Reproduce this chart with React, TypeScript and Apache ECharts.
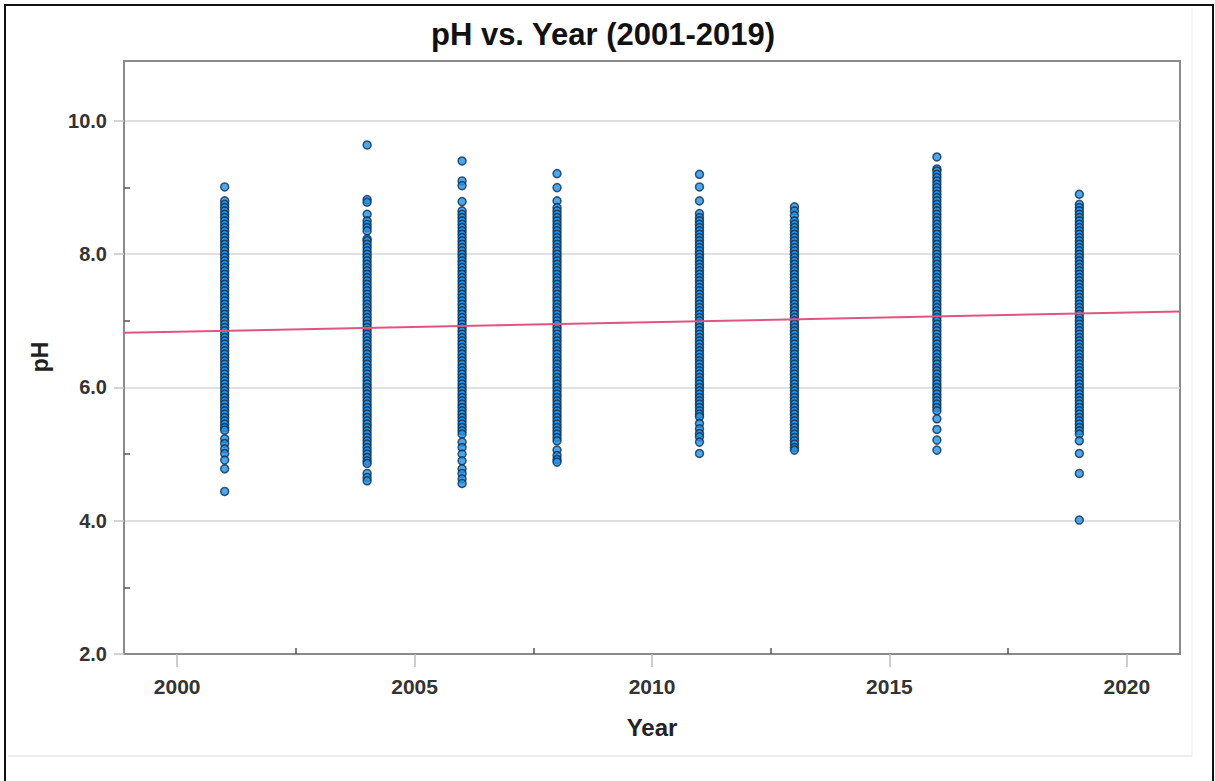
import React, { useEffect, useRef } from "react";
import * as echarts from "echarts";

const years = [2001, 2004, 2006, 2008, 2011, 2013, 2016, 2019];

const ph2001 = [9.01, 8.8, 8.75, 8.7, 8.65, 8.6, 8.55, 8.5, 8.45, 8.4, 8.35, 8.3, 8.25, 8.2, 8.15, 8.1, 8.05, 8, 7.95, 7.9, 7.85, 7.8, 7.75, 7.7, 7.65, 7.6, 7.55, 7.5, 7.45, 7.4, 7.35, 7.3, 7.25, 7.2, 7.15, 7.1, 7.05, 7, 6.95, 6.9, 6.85, 6.8, 6.75, 6.7, 6.65, 6.6, 6.55, 6.5, 6.45, 6.4, 6.35, 6.3, 6.25, 6.2, 6.15, 6.1, 6.05, 6, 5.95, 5.9, 5.85, 5.8, 5.75, 5.7, 5.65, 5.6, 5.55, 5.5, 5.45, 5.4, 5.36, 5.23, 5.16, 5.08, 5.01, 4.91, 4.78, 4.44];

const ph2004 = [9.64, 8.82, 8.78, 8.6, 8.5, 8.45, 8.4, 8.35, 8.23, 8.2, 8.15, 8.1, 8.05, 8, 7.95, 7.9, 7.85, 7.8, 7.75, 7.7, 7.65, 7.6, 7.55, 7.5, 7.45, 7.4, 7.35, 7.3, 7.25, 7.2, 7.15, 7.1, 7.05, 7, 6.95, 6.9, 6.85, 6.8, 6.75, 6.7, 6.65, 6.6, 6.55, 6.5, 6.45, 6.4, 6.35, 6.3, 6.25, 6.2, 6.15, 6.1, 6.05, 6, 5.95, 5.9, 5.85, 5.8, 5.75, 5.7, 5.65, 5.6, 5.55, 5.5, 5.45, 5.4, 5.35, 5.3, 5.25, 5.2, 5.15, 5.1, 5.05, 5, 4.95, 4.9, 4.86, 4.71, 4.65, 4.6];

const ph2006 = [9.4, 9.1, 9.03, 8.79, 8.65, 8.6, 8.55, 8.5, 8.45, 8.4, 8.35, 8.3, 8.25, 8.2, 8.15, 8.1, 8.05, 8, 7.95, 7.9, 7.85, 7.8, 7.75, 7.7, 7.65, 7.6, 7.55, 7.5, 7.45, 7.4, 7.35, 7.3, 7.25, 7.2, 7.15, 7.1, 7.05, 7, 6.95, 6.9, 6.85, 6.8, 6.75, 6.7, 6.65, 6.6, 6.55, 6.5, 6.45, 6.4, 6.35, 6.3, 6.25, 6.2, 6.15, 6.1, 6.05, 6, 5.95, 5.9, 5.85, 5.8, 5.75, 5.7, 5.65, 5.6, 5.55, 5.5, 5.45, 5.4, 5.35, 5.3, 5.18, 5.1, 5.0, 4.9, 4.78, 4.71, 4.63, 4.56];

const ph2008 = [9.21, 9.0, 8.8, 8.7, 8.65, 8.6, 8.55, 8.5, 8.45, 8.4, 8.35, 8.3, 8.25, 8.2, 8.15, 8.1, 8.05, 8, 7.95, 7.9, 7.85, 7.8, 7.75, 7.7, 7.65, 7.6, 7.55, 7.5, 7.45, 7.4, 7.35, 7.3, 7.25, 7.2, 7.15, 7.1, 7.05, 7, 6.95, 6.9, 6.85, 6.8, 6.75, 6.7, 6.65, 6.6, 6.55, 6.5, 6.45, 6.4, 6.35, 6.3, 6.25, 6.2, 6.15, 6.1, 6.05, 6, 5.95, 5.9, 5.85, 5.8, 5.75, 5.7, 5.65, 5.6, 5.55, 5.5, 5.45, 5.4, 5.35, 5.3, 5.25, 5.2, 5.06, 4.98, 4.92, 4.88];

const ph2011 = [9.2, 9.01, 8.8, 8.61, 8.55, 8.5, 8.45, 8.4, 8.35, 8.3, 8.25, 8.2, 8.15, 8.1, 8.05, 8, 7.95, 7.9, 7.85, 7.8, 7.75, 7.7, 7.65, 7.6, 7.55, 7.5, 7.45, 7.4, 7.35, 7.3, 7.25, 7.2, 7.15, 7.1, 7.05, 7, 6.95, 6.9, 6.85, 6.8, 6.75, 6.7, 6.65, 6.6, 6.55, 6.5, 6.45, 6.4, 6.35, 6.3, 6.25, 6.2, 6.15, 6.1, 6.05, 6, 5.95, 5.9, 5.85, 5.8, 5.75, 5.7, 5.65, 5.6, 5.56, 5.46, 5.38, 5.31, 5.26, 5.18, 5.01];

const ph2013 = [8.71, 8.65, 8.58, 8.5, 8.45, 8.4, 8.35, 8.3, 8.25, 8.2, 8.15, 8.1, 8.05, 8, 7.95, 7.9, 7.85, 7.8, 7.75, 7.7, 7.65, 7.6, 7.55, 7.5, 7.45, 7.4, 7.35, 7.3, 7.25, 7.2, 7.15, 7.1, 7.05, 7, 6.95, 6.9, 6.85, 6.8, 6.75, 6.7, 6.65, 6.6, 6.55, 6.5, 6.45, 6.4, 6.35, 6.3, 6.25, 6.2, 6.15, 6.1, 6.05, 6, 5.95, 5.9, 5.85, 5.8, 5.75, 5.7, 5.65, 5.6, 5.55, 5.5, 5.45, 5.4, 5.35, 5.3, 5.25, 5.2, 5.15, 5.1, 5.06];

const ph2016 = [9.46, 9.28, 9.25, 9.2, 9.15, 9.1, 9.05, 9, 8.95, 8.9, 8.85, 8.8, 8.75, 8.7, 8.65, 8.6, 8.55, 8.5, 8.45, 8.4, 8.35, 8.3, 8.25, 8.2, 8.15, 8.1, 8.05, 8, 7.95, 7.9, 7.85, 7.8, 7.75, 7.7, 7.65, 7.6, 7.55, 7.5, 7.45, 7.4, 7.35, 7.3, 7.25, 7.2, 7.15, 7.1, 7.05, 7, 6.95, 6.9, 6.85, 6.8, 6.75, 6.7, 6.65, 6.6, 6.55, 6.5, 6.45, 6.4, 6.35, 6.3, 6.25, 6.2, 6.15, 6.1, 6.05, 6, 5.95, 5.9, 5.85, 5.8, 5.75, 5.7, 5.65, 5.53, 5.37, 5.21, 5.06];

const ph2019 = [8.9, 8.75, 8.7, 8.65, 8.6, 8.55, 8.5, 8.45, 8.4, 8.35, 8.3, 8.25, 8.2, 8.15, 8.1, 8.05, 8, 7.95, 7.9, 7.85, 7.8, 7.75, 7.7, 7.65, 7.6, 7.55, 7.5, 7.45, 7.4, 7.35, 7.3, 7.25, 7.2, 7.15, 7.1, 7.05, 7, 6.95, 6.9, 6.85, 6.8, 6.75, 6.7, 6.65, 6.6, 6.55, 6.5, 6.45, 6.4, 6.35, 6.3, 6.25, 6.2, 6.15, 6.1, 6.05, 6, 5.95, 5.9, 5.85, 5.8, 5.75, 5.7, 5.65, 5.6, 5.55, 5.5, 5.45, 5.4, 5.35, 5.3, 5.2, 5.01, 4.71, 4.01];

const phByYear = [ph2001, ph2004, ph2006, ph2008, ph2011, ph2013, ph2016, ph2019];

// Fit line endpoints (at plot edges)
const trendX = [1998.88, 2021.12];
const trendY = [6.82, 7.14];

const xMajorTicks = [2000, 2005, 2010, 2015, 2020];
const xMinorTicks = [2002.5, 2007.5, 2012.5, 2017.5];
const yMajorTicks = [2, 4, 6, 8, 10];
const yMinorTicks = [3, 5, 7, 9];

const X_MIN = 1998.88;
const X_MAX = 2021.12;
const Y_MIN = 2;
const Y_MAX = 10.9;

export default function App() {
  const ref = useRef<HTMLDivElement>(null);

  useEffect(() => {
    if (!ref.current) return;
    const chart = echarts.init(ref.current, null, { renderer: "svg" });

    const scatterData: number[][] = [];
    years.forEach((yr, i) => {
      phByYear[i].forEach((v) => scatterData.push([yr, v]));
    });

    const font = "'Liberation Sans', Arial, Helvetica, sans-serif";

    const option: any = {
      animation: false,
      backgroundColor: "#ffffff",
      textStyle: { fontFamily: font },
      grid: {
        left: 124,
        top: 61,
        right: 35,
        bottom: 127,
        show: true,
        borderColor: "#8a8a8a",
        borderWidth: 2,
        backgroundColor: "transparent",
      },
      xAxis: [
        {
          type: "value",
          min: X_MIN,
          max: X_MAX,
          axisLine: { show: true, lineStyle: { color: "#8a8a8a", width: 2 } },
          axisTick: {
            show: true,
            inside: false,
            length: 13,
            customValues: xMajorTicks,
            lineStyle: { color: "#bdbdbd", width: 1.5 },
          },
          axisLabel: {
            show: true,
            customValues: xMajorTicks,
            margin: 22,
            fontSize: 21,
            fontWeight: "bold",
            color: "#333333",
            fontFamily: font,
            formatter: (v: number) => String(Math.round(v)),
          },
          splitLine: { show: false },
        },
        {
          type: "value",
          min: X_MIN,
          max: X_MAX,
          position: "bottom",
          axisLine: { show: false },
          axisTick: {
            show: true,
            inside: true,
            length: 6,
            customValues: xMinorTicks,
            lineStyle: { color: "#555555", width: 1.5 },
          },
          axisLabel: { show: false },
          splitLine: { show: false },
        },
      ],
      yAxis: [
        {
          type: "value",
          min: Y_MIN,
          max: Y_MAX,
          interval: 2,
          axisLine: { show: true, lineStyle: { color: "#8a8a8a", width: 2 } },
          axisTick: {
            show: true,
            inside: false,
            length: 10,
            customValues: yMajorTicks,
            lineStyle: { color: "#c4c4c4", width: 1.5 },
          },
          axisLabel: {
            show: true,
            customValues: yMajorTicks,
            margin: 17,
            fontSize: 20,
            fontWeight: "bold",
            color: "#333333",
            fontFamily: font,
            formatter: (v: number) => v.toFixed(1),
          },
          splitLine: { show: true, lineStyle: { color: "#d6d6d6", width: 1.5 } },
        },
        {
          type: "value",
          min: Y_MIN,
          max: Y_MAX,
          position: "left",
          axisLine: { show: false },
          axisTick: {
            show: true,
            inside: true,
            length: 6,
            customValues: yMinorTicks,
            lineStyle: { color: "#555555", width: 1.5 },
          },
          axisLabel: { show: false },
          splitLine: { show: false },
        },
      ],
      series: [
        {
          type: "scatter",
          xAxisIndex: 0,
          yAxisIndex: 0,
          data: scatterData,
          symbol: "circle",
          symbolSize: 8,
          itemStyle: {
            color: "#1f92ea",
            borderColor: "#0d2f50",
            borderWidth: 1.5,
          },
          z: 3,
        },
        {
          type: "line",
          xAxisIndex: 0,
          yAxisIndex: 0,
          data: trendX.map((x, i) => [x, trendY[i]]),
          symbol: "none",
          lineStyle: { color: "#e0557f", width: 2 },
          z: 4,
        },
      ],
      graphic: [
        {
          type: "rect",
          shape: { x: 5, y: 5, width: 1208, height: 800 },
          style: { fill: "none", stroke: "#111111", lineWidth: 2 },
          silent: true,
        },
        {
          type: "line",
          shape: { x1: 8, y1: 756, x2: 1192, y2: 756 },
          style: { stroke: "#dddddd", lineWidth: 1 },
          silent: true,
        },
        {
          type: "line",
          shape: { x1: 1192, y1: 8, x2: 1192, y2: 756 },
          style: { stroke: "#eeeeee", lineWidth: 1 },
          silent: true,
        },
        {
          type: "text",
          x: 603,
          y: 34,
          style: {
            text: "pH vs. Year (2001-2019)",
            fontSize: 31,
            fontWeight: "bold",
            fontFamily: font,
            fill: "#111111",
            align: "center",
            verticalAlign: "middle",
          },
        },
        {
          type: "text",
          x: 652,
          y: 727,
          style: {
            text: "Year",
            fontSize: 24,
            fontWeight: "bold",
            fontFamily: font,
            fill: "#222222",
            align: "center",
            verticalAlign: "middle",
          },
        },
        {
          type: "text",
          x: 40,
          y: 357,
          rotation: Math.PI / 2,
          style: {
            text: "pH",
            fontSize: 23,
            fontWeight: "bold",
            fontFamily: font,
            fill: "#222222",
            align: "center",
            verticalAlign: "middle",
          },
        },
      ],
    };

    chart.setOption(option);
    return () => {
      chart.dispose();
    };
  }, []);

  return (
    <div
      ref={ref}
      style={{ position: "absolute", left: 0, top: 0, width: 1215, height: 781 }}
    />
  );
}
